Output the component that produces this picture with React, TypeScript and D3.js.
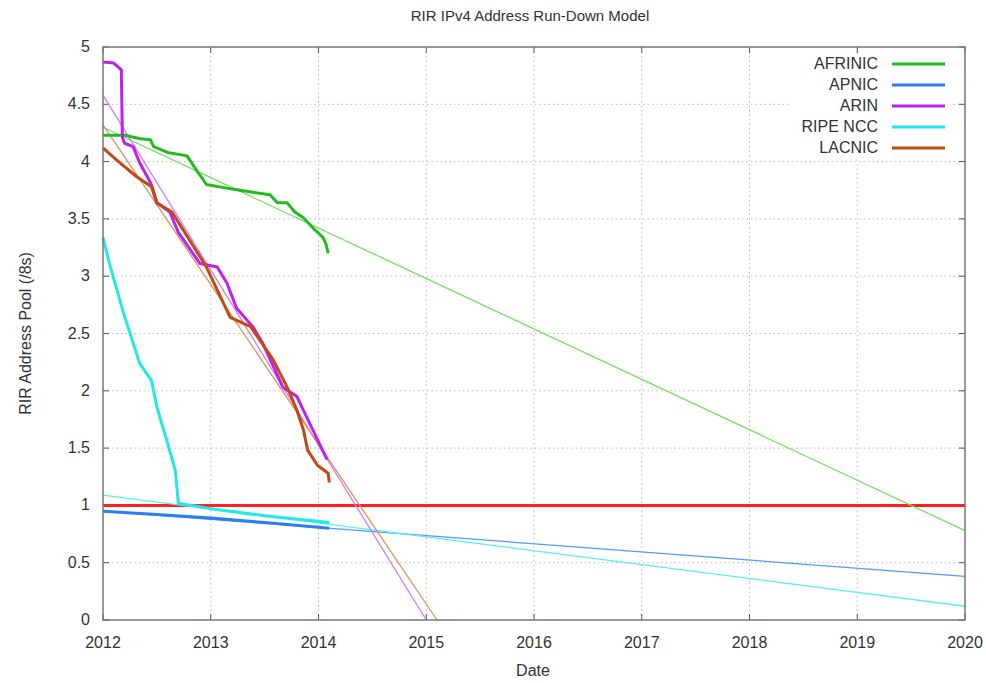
import React from 'react';
import * as d3 from 'd3';

// decimal year, /8s remaining
const afrinic: [number, number][] = [
  [2012.0, 4.23], [2012.2, 4.23], [2012.35, 4.2], [2012.44, 4.19], [2012.47, 4.13],
  [2012.6, 4.08], [2012.78, 4.05], [2012.85, 3.95], [2012.96, 3.8], [2013.2, 3.76],
  [2013.55, 3.71], [2013.62, 3.64], [2013.71, 3.64], [2013.78, 3.56], [2013.86, 3.51],
  [2013.95, 3.42], [2014.04, 3.34], [2014.07, 3.28], [2014.09, 3.2],
];
const apnic: [number, number][] = [
  [2012.0, 0.95], [2012.5, 0.92], [2013.0, 0.89], [2013.5, 0.85], [2014.0, 0.81], [2014.1, 0.8],
];
const arin: [number, number][] = [
  [2012.0, 4.87], [2012.1, 4.86], [2012.17, 4.8], [2012.18, 4.21], [2012.2, 4.16],
  [2012.28, 4.13], [2012.34, 3.99], [2012.45, 3.8], [2012.5, 3.64], [2012.62, 3.56],
  [2012.7, 3.38], [2012.9, 3.11], [2013.06, 3.08], [2013.15, 2.94], [2013.24, 2.72],
  [2013.39, 2.56], [2013.48, 2.42], [2013.67, 2.03], [2013.8, 1.95], [2013.89, 1.77],
  [2014.08, 1.4],
];
const ripe: [number, number][] = [
  [2012.0, 3.34], [2012.06, 3.11], [2012.19, 2.68], [2012.34, 2.24], [2012.45, 2.09],
  [2012.5, 1.86], [2012.6, 1.54], [2012.67, 1.31], [2012.7, 1.02], [2013.0, 0.97],
  [2013.5, 0.91], [2014.1, 0.85],
];
const lacnic: [number, number][] = [
  [2012.0, 4.12], [2012.13, 4.01], [2012.31, 3.87], [2012.45, 3.78], [2012.5, 3.64],
  [2012.64, 3.56], [2012.8, 3.32], [2012.96, 3.08], [2013.18, 2.64], [2013.37, 2.56],
  [2013.58, 2.27], [2013.71, 2.03], [2013.8, 1.83], [2013.86, 1.66], [2013.9, 1.48],
  [2013.99, 1.35], [2014.09, 1.28], [2014.1, 1.2],
];

// linear run-down fits: [start, end]
const afrinicFit: [number, number][] = [[2012, 4.3], [2020, 0.78]];
const apnicFit: [number, number][] = [[2012, 0.95], [2020, 0.38]];
const arinFit: [number, number][] = [[2012, 4.58], [2015.0, 0]];
const ripeFit: [number, number][] = [[2012, 1.09], [2020, 0.12]];
const lacnicFit: [number, number][] = [[2012, 4.32], [2015.1, 0]];

const registries = ['AFRINIC', 'APNIC', 'ARIN', 'RIPE NCC', 'LACNIC'];
const colors = ['#22bb22', '#2a7ff0', '#bb22ee', '#22e8e8', '#c04a12'];
const fitColors = ['#77dd66', '#5599ff', '#d07cf0', '#55f0f0', '#dd9060'];
const series = [afrinic, apnic, arin, ripe, lacnic];
const fits = [afrinicFit, apnicFit, arinFit, ripeFit, lacnicFit];

const xTicks = d3.range(2012, 2021);
const yTicks = [0, 0.5, 1, 1.5, 2, 2.5, 3, 3.5, 4, 4.5, 5];

const W = 986, H = 683;
const left = 103, right = 965, top = 47, bottom = 620;

export default function App() {
  const x = d3.scaleLinear().domain([2012, 2020]).range([left, right]);
  const y = d3.scaleLinear().domain([0, 5]).range([bottom, top]);
  const line = d3.line<[number, number]>().x(d => x(d[0])).y(d => y(d[1]));
  const font = '"Liberation Sans", Arial, sans-serif';

  return (
    <svg width={W} height={H} style={{ position: 'absolute', left: 0, top: 0, background: '#fff' }}
      fontFamily={font}>
      <text x={530} y={21} textAnchor="middle" fontSize={15} fill="#333">RIR IPv4 Address Run-Down Model</text>

      {/* grid */}
      {xTicks.slice(1, -1).map(t => (
        <line key={'gx' + t} x1={x(t)} x2={x(t)} y1={top} y2={bottom} stroke="#bbb" strokeDasharray="1.5,3" />
      ))}
      {yTicks.slice(1, -1).map(t => (
        <line key={'gy' + t} x1={left} x2={right} y1={y(t)} y2={y(t)} stroke="#bbb" strokeDasharray="1.5,3" />
      ))}

      {/* ticks on all four sides */}
      {xTicks.map(t => (
        <g key={'tx' + t}>
          <line x1={x(t)} x2={x(t)} y1={bottom} y2={bottom - 6} stroke="#555" />
          <line x1={x(t)} x2={x(t)} y1={top} y2={top + 6} stroke="#555" />
          <text x={x(t)} y={bottom + 28} textAnchor="middle" fontSize={16} fill="#333">{t}</text>
        </g>
      ))}
      {yTicks.map(t => (
        <g key={'ty' + t}>
          <line x1={left} x2={left + 6} y1={y(t)} y2={y(t)} stroke="#555" />
          <line x1={right} x2={right - 6} y1={y(t)} y2={y(t)} stroke="#555" />
          <text x={left - 13} y={y(t) + 5} textAnchor="end" fontSize={16} fill="#333">{t}</text>
        </g>
      ))}

      {/* threshold at one /8 */}
      <line x1={left} x2={right} y1={y(1)} y2={y(1)} stroke="#ff2020" strokeWidth={3} />

      {fits.map((f, i) => (
        <path key={'f' + i} d={line(f) || ''} fill="none" stroke={fitColors[i]} strokeWidth={1.3} />
      ))}
      {series.map((s, i) => (
        <path key={'s' + i} d={line(s) || ''} fill="none" stroke={colors[i]} strokeWidth={3} strokeLinejoin="round" />
      ))}

      <rect x={left} y={top} width={right - left} height={bottom - top} fill="none" stroke="#777" strokeWidth={1.5} />

      {/* legend */}
      <rect x={790} y={53} width={160} height={104} fill="#fff" />
      {registries.map((r, i) => (
        <g key={'l' + r}>
          <text x={878} y={64 + i * 21 + 5} textAnchor="end" fontSize={16} fill="#333">{r}</text>
          <line x1={892} x2={945} y1={64 + i * 21} y2={64 + i * 21} stroke={colors[i]} strokeWidth={3} />
        </g>
      ))}

      <text x={533} y={676} textAnchor="middle" fontSize={16} fill="#333">Date</text>
      <text transform={`translate(31,${(top + bottom) / 2}) rotate(-90)`} textAnchor="middle" fontSize={16} fill="#333">
        RIR Address Pool (/8s)
      </text>
    </svg>
  );
}
